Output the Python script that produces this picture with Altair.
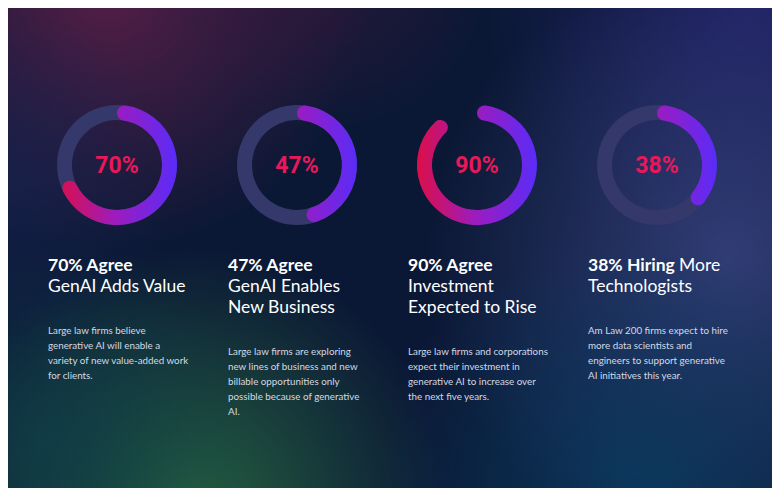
import altair as alt
import pandas as pd
import numpy as np

# ---------------- data ----------------
columns = [0, 1, 2, 3]
percents = [70, 47, 90, 38]
center_labels = ["70%", "47%", "90%", "38%"]
title_bold = ["70% Agree", "47% Agree", "90% Agree", "38% Hiring"]
title_inline = ["", "", "", "More"]
title_rest = [
    ["GenAI Adds Value"],
    ["GenAI Enables", "New Business"],
    ["Investment", "Expected to Rise"],
    ["Technologists"],
]
body_text = [
    ["Large law firms believe", "generative AI will enable a",
     "variety of new value-added work", "for clients."],
    ["Large law firms are exploring", "new lines of business and new",
     "billable opportunities only", "possible because of generative", "AI."],
    ["Large law firms and corporations", "expect their investment in",
     "generative AI to increase over", "the next five years."],
    ["Am Law 200 firms expect to hire", "more data scientists and",
     "engineers to support generative", "AI initiatives this year."],
]

# ---------------- style ----------------
W, H = 764, 480
R_OUT, R_IN, CAP = 60, 45, 7.5
TRACK = "#34386a"
STOPS = [(0.0, "#dc0f48"), (0.5, "#9b1cc0"), (1.0, "#5a2cf8")]
BG = "#0b1835"
glows = [  # cx, cy, r, rgb, alpha (chart px)
    (100, -20, 260, (88, 30, 72), 0.95),
    (320, -40, 160, (62, 24, 60), 0.55),
    (740, 0, 260, (38, 36, 115), 0.75),
    (720, 250, 300, (62, 72, 138), 0.75),
    (180, 500, 260, (36, 96, 64), 1.0),
    (40, 430, 200, (14, 62, 74), 0.7),
    (630, 480, 260, (10, 62, 100), 0.8),
    (0, 170, 170, (24, 36, 84), 0.6),
]

donut_df = pd.DataFrame({"col": columns, "pct": percents,
                         "label": center_labels})
donut_df["zero"] = 0

trows = []
for c in columns:
    trows.append({"col": c, "line": 0, "text": title_bold[c], "kind": "bold"})
    if title_inline[c]:
        trows.append({"col": c, "line": 0, "text": title_inline[c], "kind": "inline"})
    for j, t in enumerate(title_rest[c]):
        trows.append({"col": c, "line": j + 1, "text": t, "kind": "reg"})
title_df = pd.DataFrame(trows)

brows = []
for c in columns:
    n_title = 1 + len(title_rest[c])
    for j, t in enumerate(body_text[c]):
        brows.append({"col": c, "row": j + (n_title - 2) * 1.4, "text": t})
body_df = pd.DataFrame(brows)

xs = alt.X("col:Q", scale=alt.Scale(domain=[0, 3], range=[109, 649]), axis=None)
theta_scale = alt.Scale(domain=[0, 100], range=[0, 2 * np.pi])
CY = 157

layers = []
# background glows
glow_df = pd.DataFrame({"k": [0]})
for cx, cy, r, rgb, a in glows:
    col0 = "rgba(%d,%d,%d,%.2f)" % (rgb + (a,))
    colm = "rgba(%d,%d,%d,%.2f)" % (rgb + (a * 0.5,))
    col1 = "rgba(%d,%d,%d,0)" % rgb
    grad = {"gradient": "radial", "x1": 0.5, "y1": 0.5, "r1": 0,
            "x2": 0.5, "y2": 0.5, "r2": 0.5,
            "stops": [{"offset": 0, "color": col0},
                      {"offset": 0.5, "color": colm},
                      {"offset": 1, "color": col1}]}
    layers.append(
        alt.Chart(glow_df).mark_rect(fill=grad, clip=True).encode(
            x=alt.value(cx - r), x2=alt.value(cx + r),
            y=alt.value(cy - r), y2=alt.value(cy + r))
    )

# tracks
layers.append(
    alt.Chart(donut_df).mark_arc(radius=R_OUT, radius2=R_IN, theta=0,
                                 theta2=2 * np.pi, fill=TRACK).encode(
        x=xs, y=alt.value(CY))
)


def arc_bbox_x(pct):
    theta = pct / 100 * 2 * np.pi
    rc = (R_OUT + R_IN) / 2
    off = np.arcsin(CAP / rc)
    a = np.linspace(off, theta - off, 3000)
    pts = [np.sin(a) * R_OUT, np.sin(a) * R_IN]
    for ang in (off, theta - off):
        cx = np.sin(ang) * rc
        pts.append(np.array([cx - CAP, cx + CAP]))
    allx = np.concatenate(pts)
    return allx.min(), allx.max()


for c in columns:
    xmin, xmax = arc_bbox_x(percents[c])
    span = xmax - xmin
    g = {"gradient": "linear",
         "x1": (-R_OUT - xmin) / span, "x2": (R_OUT - xmin) / span,
         "y1": 0.5, "y2": 0.5,
         "stops": [{"offset": o, "color": col} for o, col in STOPS]}
    layers.append(
        alt.Chart(donut_df).transform_filter(alt.datum.col == c)
        .mark_arc(radius=R_OUT, radius2=R_IN, cornerRadius=CAP, fill=g)
        .encode(x=xs, y=alt.value(CY),
                theta=alt.Theta("zero:Q", scale=theta_scale, stack=None),
                theta2="pct:Q")
    )

# center labels
layers.append(
    alt.Chart(donut_df).mark_text(font="Roboto", fontWeight="bold", fontSize=23,
                                  color="#e8185a", align="center",
                                  baseline="middle").encode(
        x=xs, y=alt.value(CY + 1), text="label:N")
)

ty = alt.Y("line:Q", scale=alt.Scale(domain=[0, 1], range=[258, 279]), axis=None)
tbase = alt.Chart(title_df)
layers.append(
    tbase.transform_filter(alt.datum.kind == "bold").mark_text(
        font="Lato", fontWeight="bold", fontSize=17.5, color="#ffffff",
        align="left", baseline="middle", dx=-69).encode(x=xs, y=ty, text="text:N")
)
layers.append(
    tbase.transform_filter(alt.datum.kind == "reg").mark_text(
        font="Lato", fontWeight="normal", fontSize=17.5, color="#ffffff",
        align="left", baseline="middle", dx=-69).encode(x=xs, y=ty, text="text:N")
)
layers.append(
    tbase.transform_filter(alt.datum.kind == "inline").mark_text(
        font="Lato", fontWeight="normal", fontSize=17.5, color="#ffffff",
        align="left", baseline="middle", dx=22).encode(x=xs, y=ty, text="text:N")
)

by = alt.Y("row:Q", scale=alt.Scale(domain=[0, 1], range=[323, 338]), axis=None)
layers.append(
    alt.Chart(body_df).mark_text(font="Lato", fontSize=9.8, color="#d3d9e4",
                                 align="left", baseline="middle", dx=-69).encode(
        x=xs, y=by, text="text:N")
)

chart = alt.layer(*layers).resolve_scale(y="independent").properties(
    width=W, height=H, background=BG, padding=0,
    autosize=alt.AutoSizeParams(type="none"),
).configure_view(strokeWidth=0)

chart.save("out.html", embed_options={"renderer": "svg", "actions": False})
